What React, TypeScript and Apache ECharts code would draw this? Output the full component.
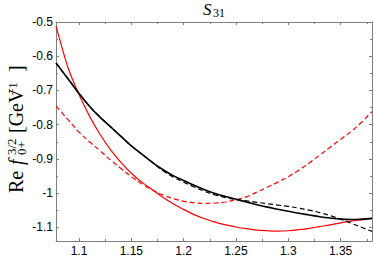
import React, { useEffect, useRef } from "react";
import * as echarts from "echarts";

// x values (sqrt(s) in GeV)
const energies = [1.078, 1.085, 1.09, 1.1, 1.11, 1.12, 1.13, 1.14, 1.15, 1.16, 1.17, 1.18, 1.19, 1.2, 1.21, 1.22, 1.23, 1.24, 1.25, 1.26, 1.27, 1.28, 1.29, 1.3, 1.31, 1.32, 1.33, 1.34, 1.35, 1.36, 1.37, 1.38];

const blackSolid = [-0.62, -0.648, -0.668, -0.709, -0.746, -0.778, -0.806, -0.834, -0.862, -0.886, -0.91, -0.931, -0.949, -0.963, -0.977, -0.99, -1.001, -1.01, -1.018, -1.026, -1.034, -1.041, -1.047, -1.053, -1.059, -1.064, -1.069, -1.073, -1.076, -1.077, -1.076, -1.074];

const blackDashed = [-0.62, -0.648, -0.668, -0.709, -0.746, -0.778, -0.806, -0.834, -0.862, -0.886, -0.91, -0.934, -0.953, -0.968, -0.982, -0.995, -1.005, -1.013, -1.019, -1.023, -1.027, -1.031, -1.035, -1.039, -1.044, -1.05, -1.057, -1.066, -1.076, -1.088, -1.1, -1.112];

const redSolid = [-0.512, -0.588, -0.638, -0.712, -0.775, -0.828, -0.873, -0.91, -0.942, -0.968, -0.99, -1.012, -1.031, -1.048, -1.063, -1.075, -1.085, -1.093, -1.099, -1.104, -1.108, -1.11, -1.111, -1.11, -1.107, -1.103, -1.098, -1.093, -1.087, -1.082, -1.078, -1.074];

const redDashed = [-0.745, -0.77, -0.787, -0.822, -0.85, -0.876, -0.903, -0.928, -0.952, -0.973, -0.991, -1.005, -1.016, -1.024, -1.028, -1.03, -1.029, -1.026, -1.019, -1.011, -0.997, -0.983, -0.968, -0.952, -0.933, -0.912, -0.889, -0.866, -0.843, -0.82, -0.793, -0.762];

const X_MIN = 1.078;
const X_MAX = 1.38;
const Y_MIN = -1.14;
const Y_MAX = -0.5;

const zip = (ys: number[]) => energies.map((x, i) => [x, ys[i]]);

const FRAME = "#7f7f7f";
const SERIF = "'Liberation Serif', 'Times New Roman', serif";

export default function App() {
  const ref = useRef<HTMLDivElement>(null);

  useEffect(() => {
    if (!ref.current) return;
    const chart = echarts.init(ref.current, null, { renderer: "svg" });

    const axisBase = (extra: any) => ({
      type: "value",
      axisLine: { show: true, onZero: false, lineStyle: { color: FRAME, width: 1 } },
      axisTick: { show: true, inside: true, length: 3, lineStyle: { color: FRAME, width: 1 } },
      minorTick: { show: true, splitNumber: 2, length: 2, lineStyle: { color: FRAME, width: 1 } },
      splitLine: { show: false },
      minorSplitLine: { show: false },
      ...extra,
    });

    const labelStyle = {
      color: "#000",
      fontSize: 12,
      fontFamily: "'Liberation Sans', Arial, sans-serif",
    };

    const lineSeries = (data: number[], color: string, width: number, dashed: boolean) => ({
      type: "line",
      data: zip(data),
      smooth: 0.4,
      showSymbol: false,
      symbol: "none",
      clip: true,
      lineStyle: { color, width, type: dashed ? [5, 3] : "solid" },
    });

    const txt = (text: string, x: number, y: number, font: string) => ({
      type: "text",
      x,
      y,
      style: { text, font, fill: "#000", verticalAlign: "bottom" },
    });

    chart.setOption({
      animation: false,
      backgroundColor: "#fff",
      grid: { left: 56, right: 2, top: 22, bottom: 15, containLabel: false },
      xAxis: [
        axisBase({
          position: "bottom",
          min: X_MIN,
          max: X_MAX,
          axisLabel: { ...labelStyle, margin: 4, showMinLabel: false, showMaxLabel: false },
        }),
        axisBase({ position: "top", min: X_MIN, max: X_MAX, axisLabel: { show: false } }),
      ],
      yAxis: [
        axisBase({
          position: "left",
          min: Y_MIN,
          max: Y_MAX,
          axisLabel: { ...labelStyle, margin: 3, showMinLabel: false },
        }),
        axisBase({ position: "right", min: Y_MIN, max: Y_MAX, axisLabel: { show: false } }),
      ],
      series: [
        lineSeries(redSolid, "#ff0000", 1.2, false),
        lineSeries(redDashed, "#ff0000", 1.2, true),
        lineSeries(blackSolid, "#000000", 1.6, false),
        lineSeries(blackDashed, "#000000", 1.2, true),
      ],
      graphic: [
        {
          type: "text",
          x: 203,
          y: 9,
          style: { text: "S", font: `italic 17px ${SERIF}`, fill: "#000", verticalAlign: "middle" },
        },
        {
          type: "text",
          x: 213,
          y: 13,
          style: { text: "31", font: `12px ${SERIF}`, fill: "#000", verticalAlign: "middle" },
        },
        {
          type: "group",
          x: 23,
          y: 193,
          rotation: Math.PI / 2,
          children: [
            txt("Re", 0, 3, `20px ${SERIF}`),
            txt("f", 28, 3, `italic 20px ${SERIF}`),
            txt("3/2", 38, -5, `13px ${SERIF}`),
            txt("0+", 38, 5, `13px ${SERIF}`),
            txt("[GeV", 60, 3, `20px ${SERIF}`),
            txt("\u22121", 97, -4, `13px ${SERIF}`),
            txt("]", 121, 3, `20px ${SERIF}`),
          ],
        },
      ],
    });

    return () => chart.dispose();
  }, []);

  return (
    <div
      ref={ref}
      style={{ position: "fixed", left: 0, top: 0, width: 374, height: 257 }}
    />
  );
}
